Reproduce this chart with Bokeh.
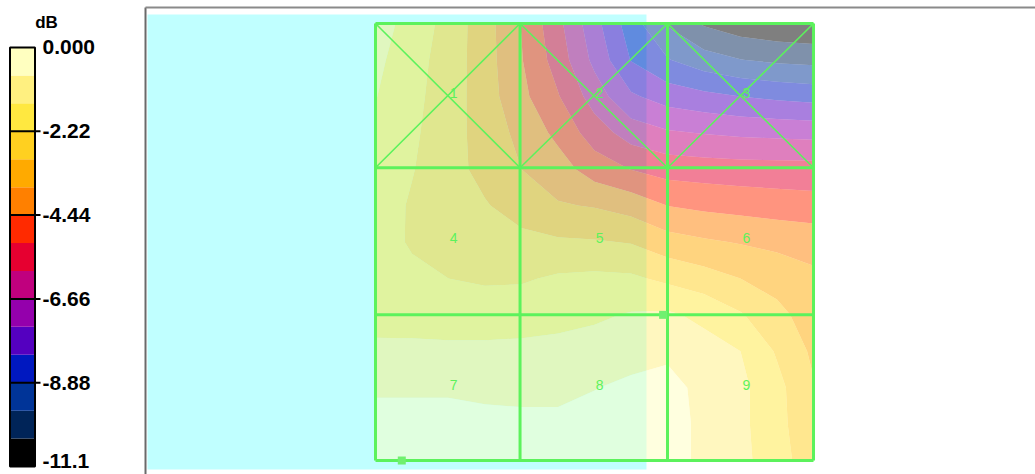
import numpy as np
from bokeh.plotting import figure
from bokeh.layouts import row
from bokeh.models import Range1d
from bokeh.embed import file_html
from bokeh.resources import INLINE
from bokeh.core.properties import value

# ---------------- data ----------------
# colour scale (dB), from lowest to highest band
scale_min = -11.1
scale_max = 0.0
band_colors = ["#000000", "#002458", "#003498", "#0018C0", "#5400C0",
               "#9400AC", "#C0007E", "#E60030", "#FF2A00", "#FF8000",
               "#FFAA00", "#FFD020", "#FFE840", "#FFF080", "#FFFFC0"]
tick_values = [0.0, -2.22, -4.44, -6.66, -8.88, -11.1]
tick_labels = ["0.000", "-2.22", "-4.44", "-6.66", "-8.88", "-11.1"]
unit_label = "dB"

# measured level field (dB) on a node grid (step 0.25), rows from top (v=0) to bottom (v=3)
u_nodes = [0, 0.25, 0.5, 0.75, 1, 1.25, 1.5, 1.75, 2, 2.25, 2.5, 2.75, 3]
v_nodes = [0, 0.25, 0.5, 0.75, 1, 1.25, 1.5, 1.75, 2, 2.25, 2.5, 2.75, 3]
db_r00 = [-1.15, -1.75, -2.49, -3.39, -4.47, -5.72, -7.14, -8.53, -9.7, -10.45, -10.8, -10.95, -11.05]
db_r01 = [-1.3, -1.93, -2.55, -3.37, -4.4, -5.51, -6.85, -8.17, -8.83, -9.3, -9.6, -9.75, -9.83]
db_r02 = [-1.45, -2.02, -2.58, -3.35, -4.25, -5.13, -6.27, -7.29, -7.73, -7.95, -8.15, -8.3, -8.41]
db_r03 = [-1.65, -2.1, -2.62, -3.3, -3.9, -4.64, -5.54, -6.26, -6.57, -6.7, -6.8, -6.85, -6.9]
db_r04 = [-1.8, -2.18, -2.67, -3.2, -3.7, -4.1, -4.8, -5.2, -5.48, -5.55, -5.6, -5.62, -5.63]
db_r05 = [-1.85, -2.3, -2.6, -2.9, -3.3, -3.64, -3.75, -4.0, -4.45, -4.6, -4.7, -4.8, -4.88]
db_r06 = [-1.9, -2.3, -2.5, -2.6, -2.75, -2.86, -2.9, -3.0, -3.4, -3.6, -3.75, -3.88, -3.98]
db_r07 = [-1.85, -2.05, -2.22, -2.3, -2.3, -2.12, -2.05, -2.1, -2.37, -2.65, -2.96, -3.25, -3.55]
db_r08 = [-1.7, -1.8, -1.9, -1.9, -1.8, -1.7, -1.6, -1.42, -1.37, -1.65, -2.15, -2.75, -3.33]
db_r09 = [-1.35, -1.3, -1.3, -1.3, -1.3, -1.27, -1.16, -1.0, -0.85, -1.2, -1.48, -2.3, -3.1]
db_r10 = [-0.85, -0.85, -0.85, -0.9, -0.9, -0.9, -0.76, -0.6, -0.55, -0.9, -1.3, -2.0, -2.9]
db_r11 = [-0.45, -0.45, -0.45, -0.55, -0.6, -0.6, -0.5, -0.45, -0.45, -0.9, -1.3, -2.0, -2.75]
db_r12 = [-0.3, -0.3, -0.35, -0.4, -0.45, -0.45, -0.4, -0.4, -0.45, -0.9, -1.25, -1.95, -2.6]

# room grid (3 x 3 cells) and cell names
col_edges = [0.0, 0.99, 2.0, 3.0]
row_edges = [0.0, 0.99, 2.0, 3.0]
cell_names = ["1", "2", "3", "4", "5", "6", "7", "8", "9"]

# light-blue zone
zone_x = [-1.562, 1.856]
zone_v = [-0.062, 3.062]

# marker points
mark_u = [1.97, 0.18]
mark_v = [2.0, 3.0]

# ---------------- styles ----------------
GREEN = "#5CF25C"
CYAN = "#C0FFFF"
FONT = "Liberation Sans"

# ---------------- colour bar figure ----------------
cb = figure(width=140, height=474, x_range=Range1d(0, 140),
            y_range=Range1d(-11.312, 1.245), toolbar_location=None,
            output_backend="svg", min_border=0,
            x_axis_location=None, y_axis_location=None)
cb.grid.visible = False
cb.outline_line_color = None
cb.background_fill_color = "white"
cb.border_fill_color = "white"

levels = np.linspace(scale_min, scale_max, len(band_colors) + 1)
cb.quad(left=10, right=34, bottom=levels[:-1], top=levels[1:],
        fill_color=band_colors, line_color=None)
cb.quad(left=9.5, right=34.5, bottom=scale_min, top=scale_max,
        fill_color=None, line_color="black", line_width=2)
inner = tick_values[1:-1]
cb.segment(x0=[10] * len(inner), x1=[40] * len(inner), y0=inner, y1=inner,
           line_color="black", line_width=2)
cb.text(x=[42] * (len(tick_values) - 1), y=tick_values[:-1], text=tick_labels[:-1],
        text_font=value(FONT), text_font_style="bold", text_font_size="21px",
        text_align="left", text_baseline="middle", text_color="black")
cb.text(x=[42], y=tick_values[-1:], text=tick_labels[-1:],
        text_font=value(FONT), text_font_style="bold", text_font_size="21px",
        text_align="left", text_baseline="middle", text_color="black", y_offset=-5)
cb.text(x=[46], y=[0.675], text=[unit_label], text_font=value(FONT),
        text_font_style="bold", text_font_size="17px", text_align="center",
        text_baseline="middle", text_color="black")

# ---------------- main map figure ----------------
p = figure(width=895, height=474, x_range=Range1d(-1.6096, 4.5205),
           y_range=Range1d(3.096, -0.1579), toolbar_location=None,
           output_backend="svg", min_border=0,
           x_axis_location=None, y_axis_location=None)
p.grid.visible = False
p.outline_line_color = None
p.background_fill_color = "white"
p.border_fill_color = "white"

# frame lines
p.line(x=[-1.5753, -1.5753], y=[-0.1098, 3.2], line_color="#6A6A6A", line_width=2)
p.line(x=[-1.5753, 4.6], y=[-0.1098, -0.1098], line_color="#8A8A8A", line_width=2)

# zone
p.quad(left=zone_x[0], right=zone_x[1], top=zone_v[0], bottom=zone_v[1],
       fill_color=CYAN, line_color=None)

# contour field
X, Y = np.meshgrid(np.array(u_nodes, dtype=float), np.array(v_nodes, dtype=float))
Z = np.array([db_r00, db_r01, db_r02, db_r03, db_r04, db_r05, db_r06,
              db_r07, db_r08, db_r09, db_r10, db_r11, db_r12])
p.contour(x=X, y=Y, z=Z, levels=list(levels), fill_color=band_colors, fill_alpha=0.5)

# grid lines
n = len(col_edges)
p.segment(x0=[col_edges[0]] * n, x1=[col_edges[-1]] * n, y0=row_edges, y1=row_edges,
          line_color=GREEN, line_width=3)
p.segment(x0=col_edges, x1=col_edges, y0=[row_edges[0]] * n, y1=[row_edges[-1]] * n,
          line_color=GREEN, line_width=3)
# diagonals in the top row
dx0, dx1, dy0, dy1 = [], [], [], []
for j in range(3):
    dx0 += [col_edges[j], col_edges[j]]
    dx1 += [col_edges[j + 1], col_edges[j + 1]]
    dy0 += [row_edges[0], row_edges[1]]
    dy1 += [row_edges[1], row_edges[0]]
p.segment(x0=dx0, x1=dx1, y0=dy0, y1=dy1, line_color=GREEN, line_width=1.6)

# cell labels
cx, cy = [], []
for i in range(3):
    for j in range(3):
        cx.append((col_edges[j] + col_edges[j + 1]) / 2)
        cy.append((row_edges[i] + row_edges[i + 1]) / 2)
p.text(x=cx, y=cy, text=cell_names, text_font=value(FONT), text_font_size="14px",
       text_color=GREEN, text_align="left", text_baseline="middle",
       x_offset=2, y_offset=-3)

# markers
p.scatter(x=mark_u, y=mark_v, marker="square", size=8, fill_color="#70F070",
          line_color=None)

layout = row(cb, p)
open("out.html", "w").write(file_html(layout, INLINE))
